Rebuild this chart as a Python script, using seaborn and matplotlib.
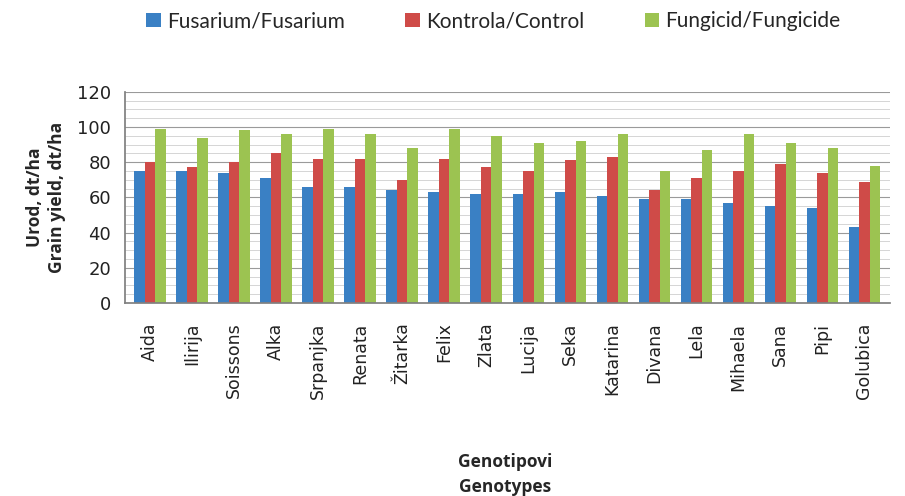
import numpy as np
import pandas as pd
import seaborn as sns
from matplotlib import pyplot as plt
from matplotlib.ticker import MultipleLocator

genotypes = ["Aida", "Ilirija", "Soissons", "Alka", "Srpanjka", "Renata", "Žitarka",
             "Felix", "Zlata", "Lucija", "Seka", "Katarina", "Divana", "Lela",
             "Mihaela", "Sana", "Pipi", "Golubica"]
fusarium = [75, 75, 74, 71, 66, 66, 64, 63, 62, 62, 63, 61, 59, 59, 57, 55, 54, 43]
kontrola = [80, 77, 80, 85, 82, 82, 70, 82, 77, 75, 81, 83, 64, 71, 75, 79, 74, 69]
fungicid = [99, 94, 98, 96, 99, 96, 88, 99, 95, 91, 92, 96, 75, 87, 96, 91, 88, 78]
series = ["Fusarium/Fusarium", "Kontrola/Control", "Fungicid/Fungicide"]
y_ticks = [0, 20, 40, 60, 80, 100, 120]

df = pd.DataFrame({
    "Genotype": genotypes * 3,
    "Yield": fusarium + kontrola + fungicid,
    "Treatment": np.repeat(series, len(genotypes)),
})

sns.set_theme(style="white")
plt.rcParams['font.family'] = ['DejaVu Sans']

fig = plt.figure(figsize=(9.05, 4.96), dpi=100)
ax = fig.add_axes([0.138, 0.389, 0.845, 0.426])

palette = ["#3A80C4", "#CF4B48", "#9CC351"]
sns.barplot(data=df, x="Genotype", y="Yield", hue="Treatment", palette=palette,
            width=0.75, saturation=1, ax=ax, legend=True)
for patch in ax.patches:
    patch.set_edgecolor("none")

ax.set_ylim(0, 120)
ax.set_yticks(y_ticks)
ax.yaxis.set_minor_locator(MultipleLocator(5))
ax.grid(axis="y", which="major", color="#9a9a9a", linewidth=0.8)
ax.grid(axis="y", which="minor", color="#cfcfcf", linewidth=0.6)
ax.set_axisbelow(True)
ax.set_xlim(-0.6, len(genotypes) - 0.4)

for side in ["top", "right"]:
    ax.spines[side].set_visible(False)
for side in ["left", "bottom"]:
    ax.spines[side].set_color("#808080")

ax.tick_params(axis="y", labelsize=13, colors="#222222", pad=4)
ax.tick_params(axis="x", labelsize=12.5, colors="#222222", pad=8)
ax.set_xticks(range(len(genotypes)))
ax.set_xticklabels(genotypes, rotation=90)

ax.set_ylabel("Urod, dt/ha\nGrain yield, dt/ha", fontsize=12.5, fontweight="bold",
              family=["Open Sans", "DejaVu Sans"], linespacing=1.3, labelpad=8)
ax.set_xlabel("Genotipovi\nGenotypes", fontsize=12.5, fontweight="bold",
              family=["Open Sans", "DejaVu Sans"], linespacing=1.5)
ax.xaxis.set_label_coords(0.497, -0.71)

handles, labels = ax.get_legend_handles_labels()
ax.get_legend().remove()
fig.legend(handles, labels, loc="upper center", bbox_to_anchor=(0.545, 1.015), ncol=3,
           frameon=False, handlelength=0.7, handleheight=0.7, handletextpad=0.3,
           columnspacing=2.9, prop={"family": ["Lato", "DejaVu Sans"], "size": 15})

fig.savefig("out.png", dpi=100)
